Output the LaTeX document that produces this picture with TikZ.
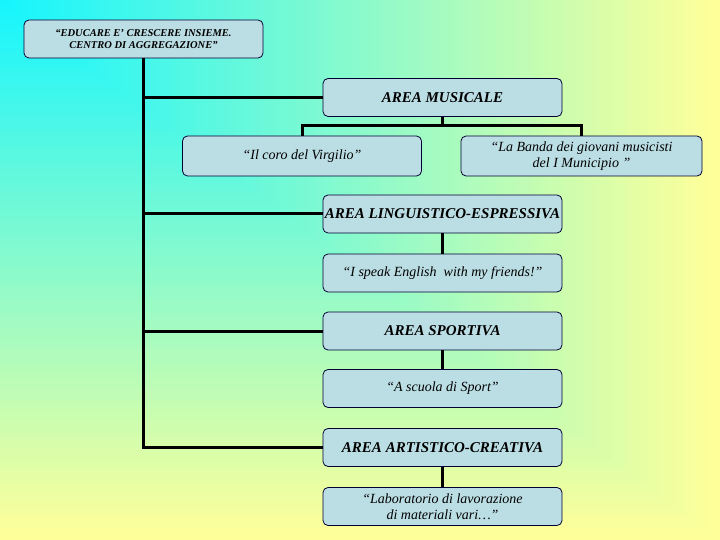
\documentclass[tikz,border=0pt]{standalone}
\usepackage{fontspec}
\setmainfont{Liberation Serif}
\usepackage{xcolor}
\definecolor{bgcyan}{RGB}{20,245,255}
\definecolor{bgyellow}{RGB}{255,255,153}
\definecolor{boxblue}{RGB}{187,222,228}

\begin{document}
\begin{tikzpicture}[x=1pt,y=-1pt,
  box/.style={draw=black!80!blue, fill=boxblue, rounded corners=5pt, minimum width=239pt, minimum height=38pt, align=center, inner sep=1pt, line width=0.8pt},
  rootbox/.style={box, font=\fontsize{10.5}{12}\selectfont\bfseries\itshape},
  areabox/.style={box, font=\fontsize{15}{17}\selectfont\bfseries\itshape},
  itembox/.style={box, font=\fontsize{14}{16}\selectfont\itshape},
  link/.style={line width=3pt}]
% background
\foreach \i in {100,99,...,1}
  \fill [bgyellow!\i!bgcyan] (0,0) rectangle (7.2*\i,5.4*\i);
\useasboundingbox (0,0) rectangle (720,540);

\node [rootbox] (root) at (143.5,39) {``EDUCARE E' CRESCERE INSIEME.\\CENTRO DI AGGREGAZIONE''};
\node [areabox] (mus) at (442.5,97.5) {AREA MUSICALE};
\node [itembox, minimum height=40pt] (coro) at (302,156) {``Il coro del Virgilio''};
\node [itembox, minimum height=40pt, minimum width=241pt] (banda) at (581.5,156) {``La Banda dei giovani musicisti\\del I Municipio ''};
\node [areabox] (ling) at (442.5,214) {AREA LINGUISTICO-ESPRESSIVA};
\node [itembox] (eng) at (442.5,273) {``I speak English\ \ with my friends!''};
\node [areabox] (sport) at (442.5,331) {AREA SPORTIVA};
\node [itembox] (scuola) at (442.5,388.5) {``A scuola di Sport''};
\node [areabox] (art) at (442.5,447.5) {AREA ARTISTICO-CREATIVA};
\node [itembox] (lab) at (442.5,506.5) {``Laboratorio di lavorazione\\di materiali vari\dots''};

\draw [link] (root.south) |- (art.west);
\draw [link] (root.south |- mus.west) -- (mus.west);
\draw [link] (root.south |- ling.west) -- (ling.west);
\draw [link] (root.south |- sport.west) -- (sport.west);
\draw [link] (mus.south) -- ++(0,9) -| (coro.north);
\draw [link] (mus.south) -- ++(0,9) -| (banda.north);
\draw [link] (ling) -- (eng);
\draw [link] (sport) -- (scuola);
\draw [link] (art) -- (lab);
\end{tikzpicture}
\end{document}
